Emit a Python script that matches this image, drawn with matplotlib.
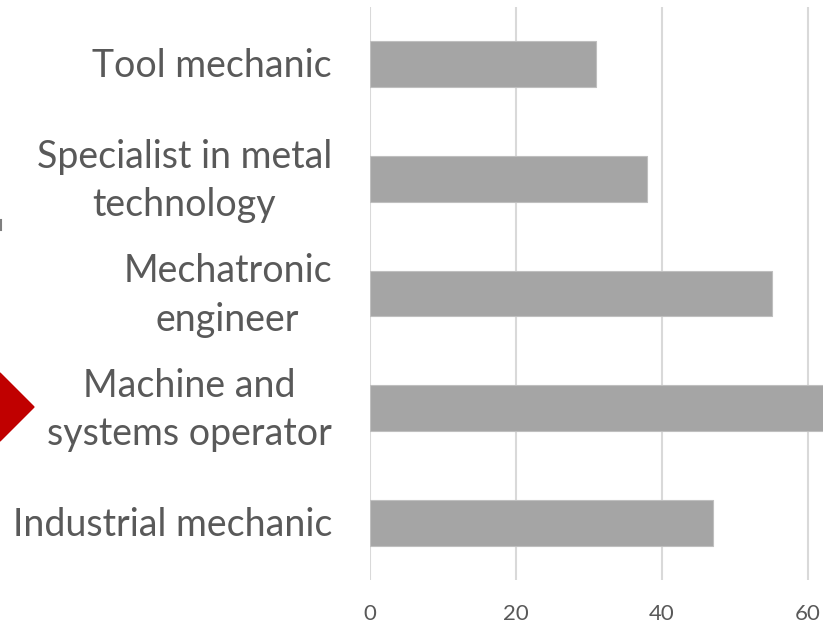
import matplotlib.pyplot as plt
import matplotlib.transforms as mtransforms
from matplotlib.lines import Line2D
from matplotlib.patches import Polygon

categories = [
    "Industrial mechanic",
    "Machine and\nsystems operator",
    "Mechatronic\nengineer",
    "Specialist in metal\ntechnology",
    "Tool mechanic",
]
values = [47, 66, 55, 38, 31]
xticks = [0, 20, 40, 60]

bar_color = "#a5a5a5"
grid_color = "#d9d9d9"
text_color = "#595959"

plt.rcParams["font.family"] = ["Lato", "DejaVu Sans"]

W, H = 823, 626
fig = plt.figure(figsize=(W / 100, H / 100), dpi=100)
ax = fig.add_axes([370 / W, 46 / H, 453 / W, 573 / H])

ax.barh(range(len(categories)), values, height=0.4, color=bar_color,
        edgecolor="#bfbfbf", linewidth=0.8, zorder=2)

ax.set_xlim(0, 62.05)
ax.set_ylim(-0.5, len(categories) - 0.5)
ax.set_xticks(xticks)
ax.set_xticklabels([str(t) for t in xticks], fontsize=16, color=text_color)
ax.set_yticks(range(len(categories)))
ax.set_yticklabels([])

# category labels, right-aligned 38 px left of the axis
label_tf = ax.get_yaxis_transform() + mtransforms.ScaledTranslation(
    -38 / 100, -2 / 100, fig.dpi_scale_trans)
for i, name in enumerate(categories):
    ax.text(0, i, name, transform=label_tf, ha="right", va="center",
            multialignment="center", linespacing=1.42, fontsize=27,
            color=text_color)

ax.tick_params(axis="y", length=0)
ax.tick_params(axis="x", length=0, pad=17)
ax.grid(axis="x", color=grid_color, linewidth=1.5, zorder=0)
for s in ax.spines.values():
    s.set_visible(False)

# red marker at the left edge (pixel coords, origin bottom-left)
cy = H - 407
diamond = Polygon([(-34, cy), (0, cy + 34), (34, cy), (0, cy - 34)],
                  closed=True, color="#c00000", transform=None)
fig.patches.append(diamond)
fig.lines.append(Line2D([1 / W, 1 / W], [(H - 230) / H, (H - 220) / H],
                        color="#7f7f7f", linewidth=1.5, transform=fig.transFigure))

fig.savefig("out.png", dpi=100)
